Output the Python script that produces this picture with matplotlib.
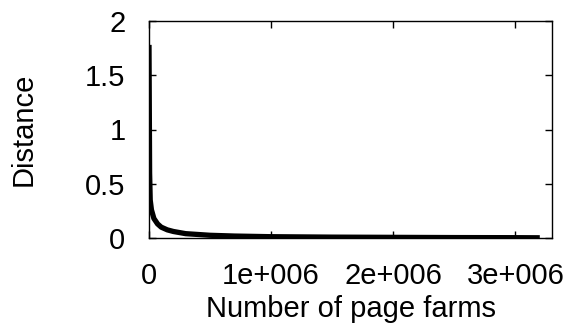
import matplotlib
matplotlib.use("Agg")
import matplotlib.pyplot as plt

plt.rcParams['font.family'] = ['Liberation Sans', 'DejaVu Sans']

num_farms = [0, 5e3, 1e4, 2e4, 4e4, 7e4, 1e5, 1.5e5, 2e5, 3e5, 5e5, 7e5,
             1e6, 1.5e6, 2e6, 2.5e6, 3e6, 3.2e6]
distance = [1.78, 0.6, 0.35, 0.26, 0.18, 0.13, 0.1, 0.075, 0.06, 0.04, 0.025,
            0.018, 0.012, 0.008, 0.006, 0.004, 0.003, 0.002]
x_ticks = [0, 1e6, 2e6, 3e6]
x_tick_labels = ["0", "1e+006", "2e+006", "3e+006"]
y_ticks = [0, 0.5, 1, 1.5, 2]
y_tick_labels = ["0", "0.5", "1", "1.5", "2"]

fig = plt.figure(figsize=(5.7, 3.35), dpi=100)
ax = fig.add_axes([149/570, 1-238/335, (552-149)/570, (238-21)/335])
ax.plot(num_farms, distance, color='black', lw=3.8, solid_capstyle='butt')
ax.set_xlim(0, 3.3e6)
ax.set_ylim(0, 2)
ax.set_xticks(x_ticks)
ax.set_xticklabels(x_tick_labels)
ax.set_yticks(y_ticks)
ax.set_yticklabels(y_tick_labels)
ax.tick_params(direction='in', top=True, right=True, labelsize=21, length=5,
               width=1)
ax.tick_params(axis='x', pad=17)
ax.tick_params(axis='y', pad=17)
for s in ax.spines.values():
    s.set_linewidth(1)
ax.set_xlabel("Number of page farms", fontsize=21, labelpad=4)
ax.set_ylabel("Distance", fontsize=21, labelpad=34)
fig.savefig("out.png", dpi=100)
